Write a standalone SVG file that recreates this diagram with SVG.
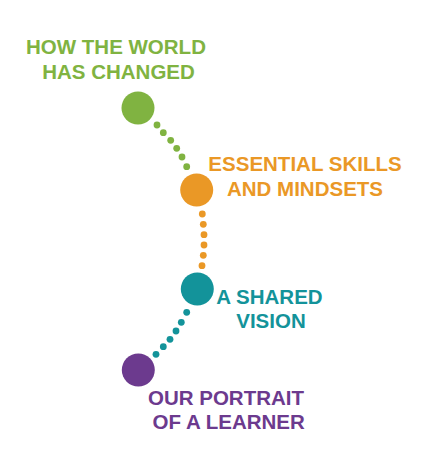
<svg xmlns="http://www.w3.org/2000/svg" width="430" height="465" viewBox="0 0 430 465">
<style>
.t{font-family:"Liberation Sans",Arial,sans-serif;font-weight:bold;font-size:20.5px;text-anchor:middle}
.g{fill:#80b341}.o{fill:#ea9826}.c{fill:#13939a}.p{fill:#6c3a8e}
</style>
<rect width="430" height="465" fill="#fff"/>
<g id="connectors">
<g class="g"><circle cx="157" cy="125" r="3.4"/><circle cx="163.3" cy="132.7" r="3.4"/><circle cx="170.7" cy="140.3" r="3.4"/><circle cx="176.7" cy="148.3" r="3.4"/><circle cx="182" cy="157" r="3.4"/><circle cx="186.7" cy="166.7" r="3.4"/></g>
<g class="o"><circle cx="202.3" cy="214" r="3.4"/><circle cx="203.3" cy="224.3" r="3.4"/><circle cx="204" cy="234.7" r="3.4"/><circle cx="204" cy="245" r="3.4"/><circle cx="203.3" cy="255.3" r="3.4"/><circle cx="202" cy="265.7" r="3.4"/></g>
<g class="c"><circle cx="186.7" cy="312.3" r="3.4"/><circle cx="181.3" cy="322.3" r="3.4"/><circle cx="176" cy="331" r="3.4"/><circle cx="170" cy="339.3" r="3.4"/><circle cx="163.3" cy="346.7" r="3.4"/><circle cx="156" cy="354.3" r="3.4"/></g>
</g>
<g id="node-world">
<circle class="g" cx="138" cy="108" r="16.5"/>
<text class="t g" x="116" y="53.5">HOW THE WORLD</text>
<text class="t g" x="118.5" y="78.5">HAS CHANGED</text>
</g>
<g id="node-skills">
<circle class="o" cx="196.7" cy="190" r="16.5"/>
<text class="t o" x="305" y="170.7">ESSENTIAL SKILLS</text>
<text class="t o" x="305" y="195.7">AND MINDSETS</text>
</g>
<g id="node-vision">
<circle class="c" cx="197.3" cy="289" r="16.5"/>
<text class="t c" x="269.5" y="304.3">A SHARED</text>
<text class="t c" x="271" y="328.3">VISION</text>
</g>
<g id="node-portrait">
<circle class="p" cx="138.3" cy="370" r="16.5"/>
<text class="t p" x="226" y="405">OUR PORTRAIT</text>
<text class="t p" x="228.7" y="429.3">OF A LEARNER</text>
</g>
</svg>
